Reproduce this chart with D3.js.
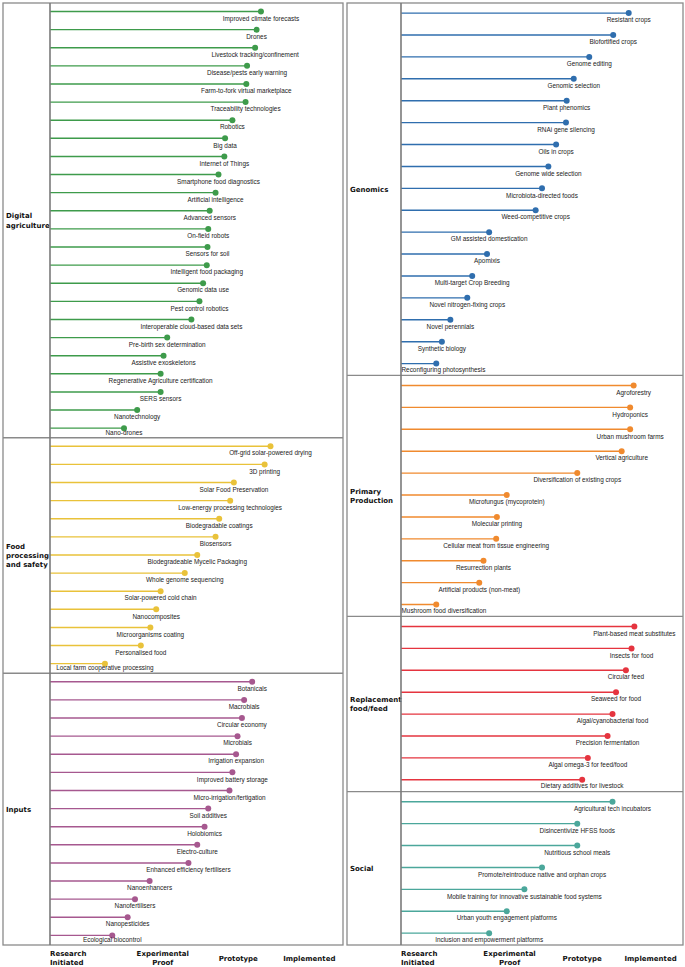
<!DOCTYPE html>
<html><head><meta charset="utf-8">
<script src="https://cdn.jsdelivr.net/npm/d3@7"></script>
<style>
html,body{margin:0;padding:0;background:#fff;}
svg{display:block;}
</style></head>
<body>
<script>
// ---------- DATA ----------
const stageLabels = ["Research\nInitiated", "Experimental\nProof", "Prototype", "Implemented"];
const stagePositions = [0, 1.54, 2.57, 3.54];

const digitalItems = ["Improved climate forecasts","Drones","Livestock tracking/confinement","Disease/pests early warning","Farm-to-fork virtual marketplace","Traceability technologies","Robotics","Big data","Internet of Things","Smartphone food diagnostics","Artificial intelligence","Advanced sensors","On-field robots","Sensors for soil","Intelligent food packaging","Genomic data use","Pest control robotics","Interoperable cloud-based data sets","Pre-birth sex determination","Assistive exoskeletons","Regenerative Agriculture certification","SERS sensors","Nanotechnology","Nano-drones"];
const digitalValues = [2.88,2.82,2.80,2.69,2.68,2.67,2.49,2.39,2.38,2.30,2.26,2.18,2.16,2.15,2.14,2.09,2.04,1.93,1.60,1.55,1.51,1.51,1.19,1.01];

const foodItems = ["Off-grid solar-powered drying","3D printing","Solar Food Preservation","Low-energy processing technologies","Biodegradable coatings","Biosensors","Biodegradeable Mycelic Packaging","Whole genome sequencing","Solar-powered cold chain","Nanocomposites","Microorganisms coating","Personalised food","Local farm cooperative processing"];
const foodValues = [3.01,2.93,2.51,2.46,2.31,2.26,2.01,1.84,1.51,1.45,1.37,1.24,0.75];

const inputsItems = ["Botanicals","Macrobials","Circular economy","Microbials","Irrigation expansion","Improved battery storage","Micro-irrigation/fertigation","Soil additives","Holobiomics","Electro-culture","Enhanced efficiency fertilisers","Nanoenhancers","Nanofertilisers","Nanopesticides","Ecological biocontrol"];
const inputsValues = [2.76,2.65,2.62,2.56,2.54,2.49,2.45,2.16,2.11,2.01,1.89,1.36,1.16,1.06,0.85];

const genomicsItems = ["Resistant crops","Biofortified crops","Genome editing","Genomic selection","Plant phenomics","RNAi gene silencing","Oils in crops","Genome wide selection","Microbiota-directed foods","Weed-competitive crops","GM assisted domestication","Apomixis","Multi-target Crop Breeding","Novel nitrogen-fixing crops","Novel perennials","Synthetic biology","Reconfiguring photosynthesis"];
const genomicsValues = [3.23,3.01,2.67,2.45,2.35,2.34,2.20,2.09,2.00,1.91,1.25,1.22,1.01,0.94,0.70,0.58,0.50];

const primaryItems = ["Agroforestry","Hydroponics","Urban mushroom farms","Vertical agriculture","Diversification of existing crops","Microfungus (mycoprotein)","Molecular printing","Cellular meat from tissue engineering","Resurrection plants","Artificial products (non-meat)","Mushroom food diversification"];
const primaryValues = [3.30,3.25,3.25,3.13,2.50,1.50,1.36,1.35,1.17,1.11,0.50];

const replacementItems = ["Plant-based meat substitutes","Insects for food","Circular feed","Seaweed for food","Algal/cyanobacterial food","Precision fermentation","Algal omega-3 for feed/food","Dietary additives for livestock"];
const replacementValues = [3.31,3.27,3.19,3.05,3.00,2.93,2.65,2.57];

const socialItems = ["Agricultural tech incubators","Disincentivize HFSS foods","Nutritious school meals","Promote/reintroduce native and orphan crops","Mobile training for innovative sustainable food systems","Urban youth engagement platforms","Inclusion and empowerment platforms"];
const socialValues = [3.00,2.50,2.50,2.00,1.75,1.50,1.25];

const leftSections = [
  {title:"Digital\nagriculture", items:digitalItems, values:digitalValues, color:"#3e9b4b"},
  {title:"Food\nprocessing\nand safety", items:foodItems, values:foodValues, color:"#e9c23a"},
  {title:"Inputs", items:inputsItems, values:inputsValues, color:"#a6588f"}
];
const rightSections = [
  {title:"Genomics", items:genomicsItems, values:genomicsValues, color:"#2f6eae"},
  {title:"Primary\nProduction", items:primaryItems, values:primaryValues, color:"#f08a2e"},
  {title:"Replacement\nfood/feed", items:replacementItems, values:replacementValues, color:"#e5343f"},
  {title:"Social", items:socialItems, values:socialValues, color:"#4ba79b"}
];

// ---------- DRAW ----------
const W = 685, H = 967;
const svg = d3.select("body").append("svg").attr("width", W).attr("height", H);
const frameColor = "#8a8a8a";
const itemFont = "'Liberation Sans', Arial, Helvetica, sans-serif";
const boldFont = "'DejaVu Sans', Verdana, sans-serif";

function drawPanel(sections, p) {
  const g = svg.append("g");
  const allItems = sections.flatMap(s => s.items.map(n => s.title + "|" + n));
  const y = d3.scaleBand().domain(allItems).range([p.top, p.bottom]).paddingInner(0).paddingOuter(0);
  const x = d3.scaleLinear().domain([0, 4]).range([p.axisX, p.right]);
  const bw = y.bandwidth();

  // frame
  g.append("rect").attr("x", p.left).attr("y", p.top).attr("width", p.right - p.left).attr("height", p.bottom - p.top)
    .attr("fill", "none").attr("stroke", frameColor).attr("stroke-width", 1.3);

  sections.forEach((s, si) => {
    const keys = s.items.map(n => s.title + "|" + n);
    const secTop = y(keys[0]);
    const secBottom = y(keys[keys.length - 1]) + bw;
    if (si > 0) {
      g.append("line").attr("x1", p.left).attr("x2", p.right).attr("y1", secTop).attr("y2", secTop)
        .attr("stroke", frameColor).attr("stroke-width", 1.3);
    }
    // section title
    const lines = s.title.split("\n");
    const mid = (secTop + secBottom) / 2;
    const t = g.append("text").attr("font-family", boldFont).attr("font-weight", "bold").attr("font-size", 7)
      .attr("fill", "#111");
    lines.forEach((ln, i) => {
      t.append("tspan").attr("x", p.left + 3).attr("y", mid + (i - (lines.length - 1) / 2) * 9.3 + 2.5).text(ln);
    });

    s.items.forEach((name, i) => {
      const key = keys[i];
      const cy = y(key) + bw * p.dotFrac;
      const cx = x(s.values[i]);
      g.append("line").attr("x1", x(0)).attr("x2", cx).attr("y1", cy).attr("y2", cy)
        .attr("stroke", s.color).attr("stroke-width", 1.4);
      g.append("circle").attr("cx", cx).attr("cy", cy).attr("r", 3).attr("fill", s.color);
      const ty = Math.min(cy + 9.2, secBottom - 3.2);
      const lbl = g.append("text").attr("font-family", itemFont).attr("font-size", 6.4).attr("fill", "#222")
        .attr("x", cx).attr("y", ty).attr("text-anchor", "middle").text(name);
      const w = lbl.node().getComputedTextLength();
      if (cx - w / 2 < x(0) + 1) {
        lbl.attr("text-anchor", "start").attr("x", x(0) + 0.5);
      }
    });
  });

  // axis line
  g.append("line").attr("x1", x(0)).attr("x2", x(0)).attr("y1", p.top).attr("y2", p.bottom)
    .attr("stroke", "#7a7a7a").attr("stroke-width", 1.6);

  // stage labels
  stageLabels.forEach((lab, i) => {
    const lines = lab.split("\n");
    const start = i === 0;
    const t = g.append("text").attr("font-family", boldFont).attr("font-weight", "bold").attr("font-size", 7)
      .attr("fill", "#111").attr("text-anchor", start ? "start" : "middle");
    const cx = x(stagePositions[i]);
    const centerY = 958;
    lines.forEach((ln, j) => {
      t.append("tspan").attr("x", cx).attr("y", centerY + (j - (lines.length - 1) / 2) * 9 + 2.5).text(ln);
    });
  });
}

drawPanel(leftSections, {left: 3, right: 343, axisX: 50, top: 3, bottom: 945, dotFrac: 0.47});
drawPanel(rightSections, {left: 347, right: 683, axisX: 401, top: 3, bottom: 945, dotFrac: 0.46});
</script>
</body></html>
